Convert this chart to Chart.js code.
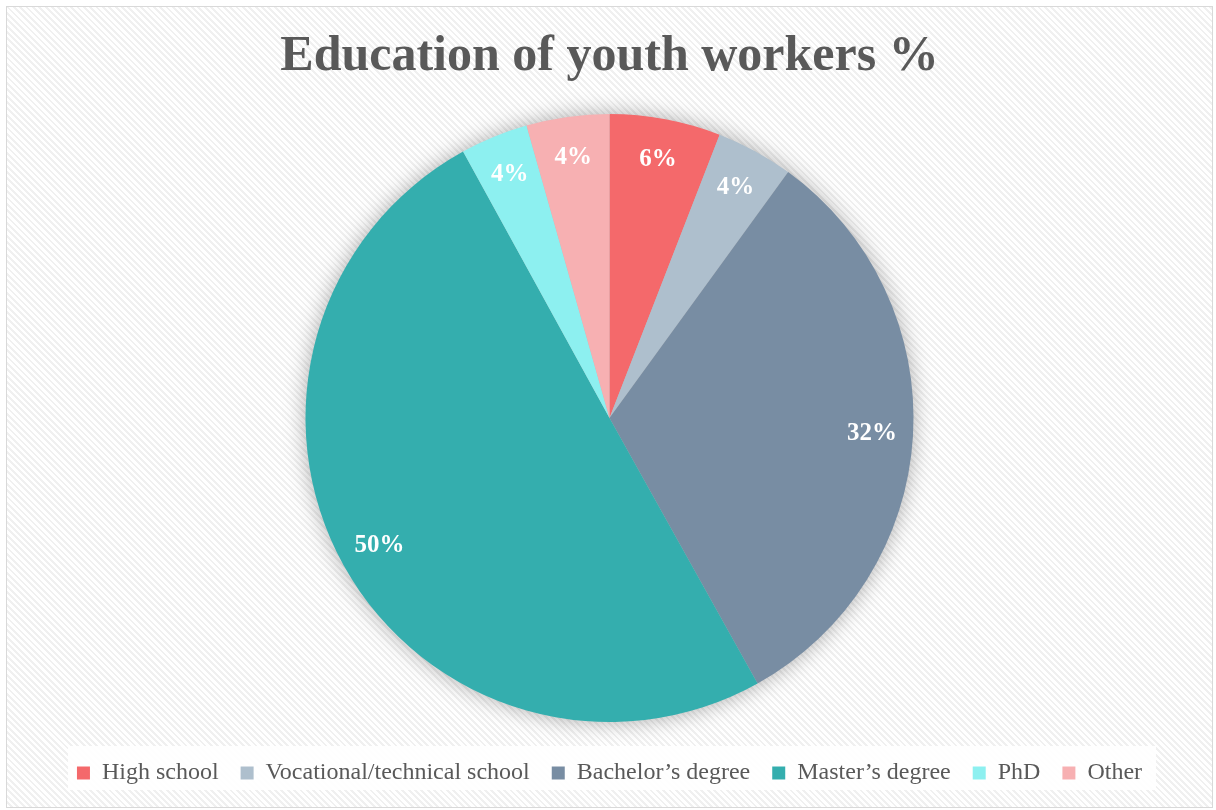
<!DOCTYPE html>
<html>
<head>
<meta charset="utf-8">
<script src="https://cdn.jsdelivr.net/npm/chart.js@4.4.1/dist/chart.umd.min.js"></script>
<style>
  html, body { margin: 0; padding: 0; background: #ffffff; }
  .chart-box {
    position: absolute;
    left: 6px; top: 6px;
    width: 1205px; height: 800px;
    border: 1px solid #d9d9d9;
    background: repeating-linear-gradient(45deg, #ffffff 0px, #ffffff 2.5px, #f0f0f0 2.5px, #f0f0f0 4.5px);
  }
  canvas { display: block; }
</style>
</head>
<body>
<div class="chart-box">
  <canvas id="pie" width="1205" height="800"></canvas>
</div>
<script>
const categories = ['High school', 'Vocational/technical school', 'Bachelor\u2019s degree', 'Master\u2019s degree', 'PhD', 'Other'];
const shares = [5.9, 4.1, 31.9, 50.1, 3.6, 4.4];
const sliceColors = ['#F4696B', '#AEBFCD', '#788DA3', '#34AEAE', '#8DF0F0', '#F7B0B2'];

// soft shadow behind the whole pie
const pieShadow = {
  id: 'pieShadow',
  beforeDatasetsDraw(chart) {
    const arc = chart.getDatasetMeta(0).data[0];
    if (!arc) return;
    const ctx = chart.ctx;
    ctx.save();
    ctx.shadowColor = 'rgba(0,0,0,0.35)';
    ctx.shadowBlur = 22;
    ctx.fillStyle = '#bbbbbb';
    ctx.beginPath();
    ctx.arc(arc.x, arc.y, arc.outerRadius - 1, 0, Math.PI * 2);
    ctx.fill();
    ctx.restore();
  }
};

// white panel behind the legend
const legendPanel = {
  id: 'legendPanel',
  beforeDraw(chart) {
    const lg = chart.legend;
    if (!lg) return;
    const ctx = chart.ctx;
    const cy = lg.top + lg.height / 2;
    ctx.save();
    ctx.fillStyle = 'rgba(255,255,255,0.9)';
    ctx.fillRect(61, cy - 21, 1088, 44);
    ctx.restore();
  }
};

const sliceLabels = {
  id: 'sliceLabels',
  afterDatasetsDraw(chart) {
    const ctx = chart.ctx;
    const meta = chart.getDatasetMeta(0);
    ctx.save();
    ctx.fillStyle = '#ffffff';
    ctx.font = 'bold 25px "Liberation Serif", serif';
    ctx.textAlign = 'center';
    ctx.textBaseline = 'middle';
    meta.data.forEach((a, i) => {
      const mid = (a.startAngle + a.endAngle) / 2;
      const r = a.outerRadius * 0.865;
      ctx.fillText(Math.round(shares[i]) + '%', a.x + Math.cos(mid) * r, a.y + Math.sin(mid) * r);
    });
    ctx.restore();
  }
};

new Chart(document.getElementById('pie'), {
  type: 'pie',
  data: {
    labels: categories,
    datasets: [{
      data: shares,
      backgroundColor: sliceColors,
      borderWidth: 0,
      radius: 304
    }]
  },
  options: {
    responsive: false,
    animation: false,
    layout: { padding: { top: 0, bottom: 12, left: 0, right: 0 } },
    plugins: {
      title: {
        display: true,
        text: 'Education of youth workers %',
        color: '#595959',
        font: { family: '"Liberation Serif", serif', size: 50, weight: 'bold' },
        padding: { top: 20, bottom: 10 }
      },
      legend: {
        position: 'bottom',
        labels: {
          color: '#595959',
          boxWidth: 13,
          boxHeight: 13,
          padding: 22,
          font: { family: '"Liberation Serif", serif', size: 24 }
        }
      },
      tooltip: { enabled: false }
    }
  },
  plugins: [legendPanel, pieShadow, sliceLabels]
});
</script>
</body>
</html>
